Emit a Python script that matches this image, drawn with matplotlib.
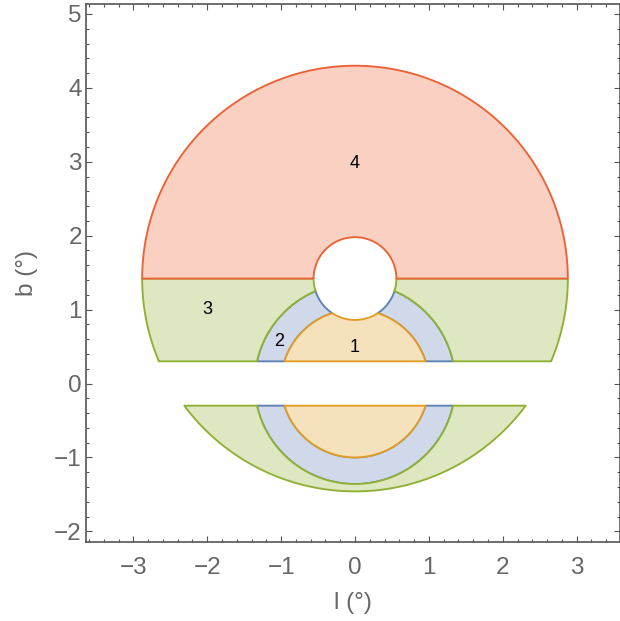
import numpy as np
import matplotlib
matplotlib.use("Agg")
import matplotlib.pyplot as plt
from matplotlib.patches import Polygon
from matplotlib.ticker import MultipleLocator

plt.rcParams['font.family'] = ['Liberation Sans', 'DejaVu Sans']

# ---- data (degrees) ----
region_names = ['1', '2', '3', '4']
label_l = [0.0, -1.02, -2.0, 0.0]
label_b = [0.49, 0.57, 1.0, 2.98]
inner_radii = [1.0, 1.36]          # circles centred on (0, 0)
outer_centre_b = 1.42              # centre of outer circle and hole
outer_radius = 2.88
hole_radius = 0.56
b_cut = 0.3                        # |b| < b_cut excluded
line_colors = ['#E19C24', '#5E81B5', '#8FB032', '#EB6235']
fill_colors = ['#F6E1BD', '#CFD9E9', '#DDE7C2', '#F9D0C2']
xticks = [-3, -2, -1, 0, 1, 2, 3]
yticks = [-2, -1, 0, 1, 2, 3, 4, 5]

r1, r2 = inner_radii
c = outer_centre_b
R = outer_radius
h = hole_radius


def arc(cx, cy, r, t0, t1, n=200):
    t = np.linspace(t0, t1, n)
    return np.column_stack([cx + r * np.cos(t), cy + r * np.sin(t)])


def hole_meet(r):
    y = (r * r - h * h + c * c) / (2 * c)
    x = np.sqrt(r * r - y * y)
    return x, y


x1m, y1m = hole_meet(r1)
x2m, y2m = hole_meet(r2)
a1 = np.arcsin(b_cut / r1)
a2 = np.arcsin(b_cut / r2)
t1m = np.arctan2(y1m, x1m)
t2m = np.arctan2(y2m, x2m)
h1 = np.arctan2(y1m - c, x1m)
h2 = np.arctan2(y2m - c, x2m)
aR_up = np.arcsin((c - b_cut) / R)
aR_lo = np.arcsin((c + b_cut) / R)


def mirror(p):
    q = p.copy()
    q[:, 0] = -q[:, 0]
    return q


# region 1 (orange)
r1_up = np.vstack([arc(0, 0, r1, a1, t1m),
                   arc(0, c, h, h1, -np.pi - h1),
                   arc(0, 0, r1, np.pi - t1m, np.pi - a1)])
r1_lo = arc(0, 0, r1, -a1, -np.pi + a1)

# region 2 (blue)
r2_up_right = np.vstack([arc(0, 0, r2, a2, t2m),
                         arc(0, c, h, h2, h1),
                         arc(0, 0, r1, t1m, a1)])
r2_up_left = mirror(r2_up_right)
r2_lo = np.vstack([arc(0, 0, r2, -a2, -np.pi + a2),
                   arc(0, 0, r1, -np.pi + a1, -a1)])

# region 3 (green)
r3_up_right = np.vstack([arc(0, c, R, -aR_up, 0),
                         arc(0, c, h, 0, h2),
                         arc(0, 0, r2, t2m, a2)])
r3_up_left = mirror(r3_up_right)
r3_lo = np.vstack([arc(0, c, R, -aR_lo, -np.pi + aR_lo),
                   arc(0, 0, r2, -np.pi + a2, -a2)])

# region 4 (red)
r4 = np.vstack([arc(0, c, R, 0, np.pi),
                arc(0, c, h, np.pi, 0)])

fig = plt.figure(figsize=(6.2, 6.21), dpi=100)
W, H = 620, 621
left_px, right_px, top_px, bot_px = 86, 619.5, 4, 542
ax = fig.add_axes([left_px / W, (H - bot_px) / H,
                   (right_px - left_px) / W, (bot_px - top_px) / H])

unit = 73.9
l0_px, b0_px = 355, 383.5
ax.set_xlim((left_px - l0_px) / unit, (right_px - l0_px) / unit)
ax.set_ylim((b0_px - bot_px) / unit, (b0_px - top_px) / unit)

lw = 1.35
groups = [
    (1, [r2_up_right, r2_up_left, r2_lo]),
    (0, [r1_up, r1_lo]),
    (2, [r3_up_right, r3_up_left, r3_lo]),
    (3, [r4]),
]
z = 2
for idx, polys in groups:
    for p in polys:
        ax.add_patch(Polygon(p, closed=True, facecolor=fill_colors[idx],
                             edgecolor=line_colors[idx], linewidth=lw,
                             joinstyle='round', zorder=z))
    z += 1

for name, lx, by in zip(region_names, label_l, label_b):
    ax.text(lx, by, name, ha='center', va='center', fontsize=13,
            color='black', zorder=10)

frame_color = '#555555'
label_color = '#666666'
for s in ax.spines.values():
    s.set_color(frame_color)
    s.set_linewidth(1.2)

ax.set_xticks(xticks)
ax.set_yticks(yticks)
ax.set_xticklabels([str(v).replace('-', '\u2212') for v in xticks])
ax.set_yticklabels([str(v).replace('-', '\u2212') for v in yticks])
ax.xaxis.set_minor_locator(MultipleLocator(0.2))
ax.yaxis.set_minor_locator(MultipleLocator(0.2))
ax.tick_params(which='both', direction='in', top=True, right=True,
               color=frame_color, width=0.8)
ax.tick_params(which='major', length=4.5)
ax.tick_params(which='minor', length=2.3)
ax.tick_params(axis='x', which='major', labelsize=17.5, labelcolor=label_color, pad=11)
ax.tick_params(axis='y', which='major', labelsize=17.5, labelcolor=label_color, pad=3)

ax.set_xlabel('l (°)', fontsize=17.5, color=label_color, labelpad=9)
ax.set_ylabel('b (°)', fontsize=17.5, color=label_color, labelpad=12)

fig.savefig('out.png', dpi=100)
